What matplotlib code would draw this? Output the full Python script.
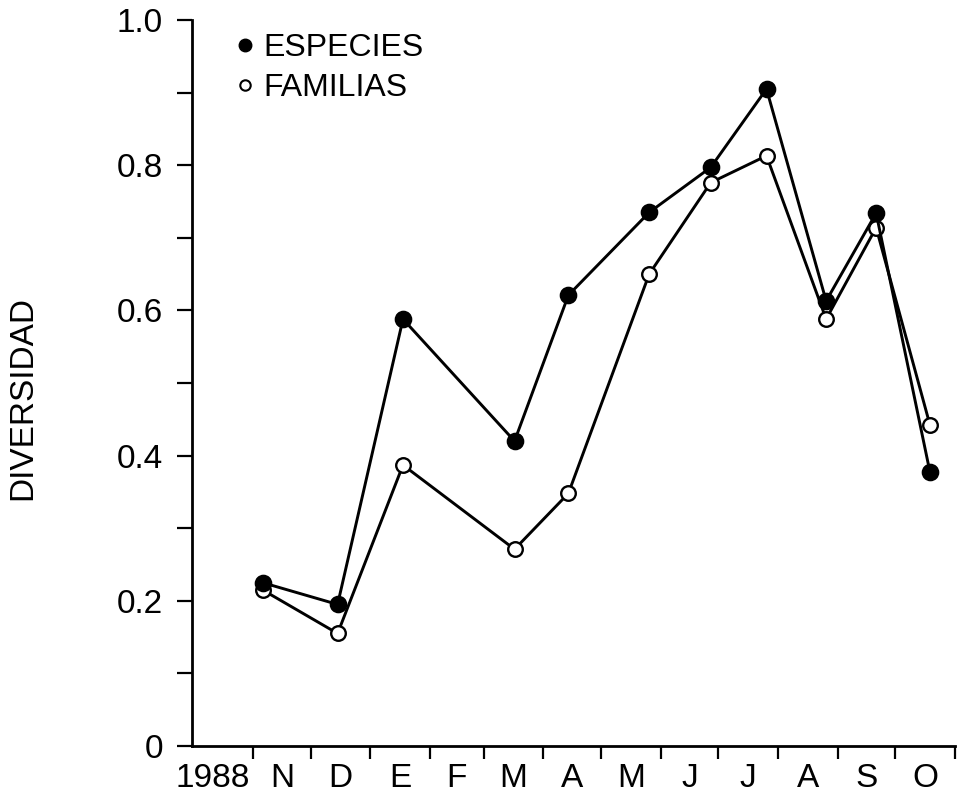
import datetime as dt
import matplotlib
matplotlib.use('Agg')
import matplotlib.pyplot as plt
import matplotlib.dates as mdates
from matplotlib.lines import Line2D

plt.rcParams['font.family'] = ['Liberation Sans', 'DejaVu Sans']

# sampling dates (Nov 1988 - Oct 1989) and diversity values
sample_dates = [dt.datetime(1988, 11, 6), dt.datetime(1988, 12, 15),
                dt.datetime(1989, 1, 18), dt.datetime(1989, 3, 17),
                dt.datetime(1989, 4, 14), dt.datetime(1989, 5, 26),
                dt.datetime(1989, 6, 27), dt.datetime(1989, 7, 26),
                dt.datetime(1989, 8, 26), dt.datetime(1989, 9, 21),
                dt.datetime(1989, 10, 19)]
especies = [0.225, 0.195, 0.588, 0.42, 0.621, 0.735, 0.797, 0.905, 0.613, 0.734, 0.377]
familias = [0.215, 0.155, 0.387, 0.271, 0.348, 0.65, 0.776, 0.813, 0.588, 0.714, 0.442]

month_letters = ['N', 'D', 'E', 'F', 'M', 'A', 'M', 'J', 'J', 'A', 'S', 'O']
year_label = '1988'
y_ticks = [0, 0.2, 0.4, 0.6, 0.8, 1.0]
y_labels = ['0', '0.2', '0.4', '0.6', '0.8', '1.0']

fig = plt.figure(figsize=(9.57, 7.98), dpi=100)
ax = fig.add_axes([192 / 957, 52 / 798, 763 / 957, 726 / 798])

ax.plot(sample_dates, familias, '-o', color='black', lw=2.1, ms=10.5,
        mfc='white', mec='black', mew=1.7)
ax.plot(sample_dates, especies, '-o', color='black', lw=2.1, ms=11,
        mfc='black', mec='black', mew=1.7)

# month boundaries as major ticks, letters centred in each month
month_starts = [dt.datetime(1988 + (10 + i) // 12, (10 + i) % 12 + 1, 1) for i in range(13)]
mids = [a + (b - a) / 2 for a, b in zip(month_starts[:-1], month_starts[1:])]
label_pos = [month_starts[0] - dt.timedelta(days=21)] + mids

x0 = mdates.date2num(month_starts[0])
ax.set_xlim(x0 - 31.7, mdates.date2num(month_starts[-1]))
ax.set_xticks(month_starts)
ax.set_xticklabels([''] * len(month_starts))
ax.set_xticks(label_pos, minor=True)
ax.set_xticklabels([year_label] + month_letters, minor=True)

ax.set_ylim(0, 1.0)
ax.set_yticks(y_ticks)
ax.set_yticklabels(y_labels)
ax.set_yticks([0.1, 0.3, 0.5, 0.7, 0.9], minor=True)

for s in ['top', 'right']:
    ax.spines[s].set_visible(False)
for s in ['left', 'bottom']:
    ax.spines[s].set_linewidth(2)

ax.tick_params(axis='y', which='both', direction='out', length=11, width=1.6,
               pad=10, labelsize=24)
ax.tick_params(axis='x', which='major', direction='out', length=9.5, width=1.6)
ax.tick_params(axis='x', which='minor', length=0, pad=12, labelsize=24)

handles = [Line2D([], [], ls='none', marker='o', ms=9, mfc='black', mec='black'),
           Line2D([], [], ls='none', marker='o', ms=7.5, mfc='white', mec='black', mew=1.5)]
ax.legend(handles, ['ESPECIES', 'FAMILIAS'], loc='upper left',
          bbox_to_anchor=(0.0577, 0.982), frameon=False, fontsize=23,
          handlelength=0.55, handletextpad=0.3, labelspacing=0.32,
          borderpad=0, borderaxespad=0)

fig.text(23 / 957, 1 - 398 / 798, 'DIVERSIDAD', rotation=90,
         ha='center', va='center', fontsize=24)

fig.savefig('out.png', dpi=100)
